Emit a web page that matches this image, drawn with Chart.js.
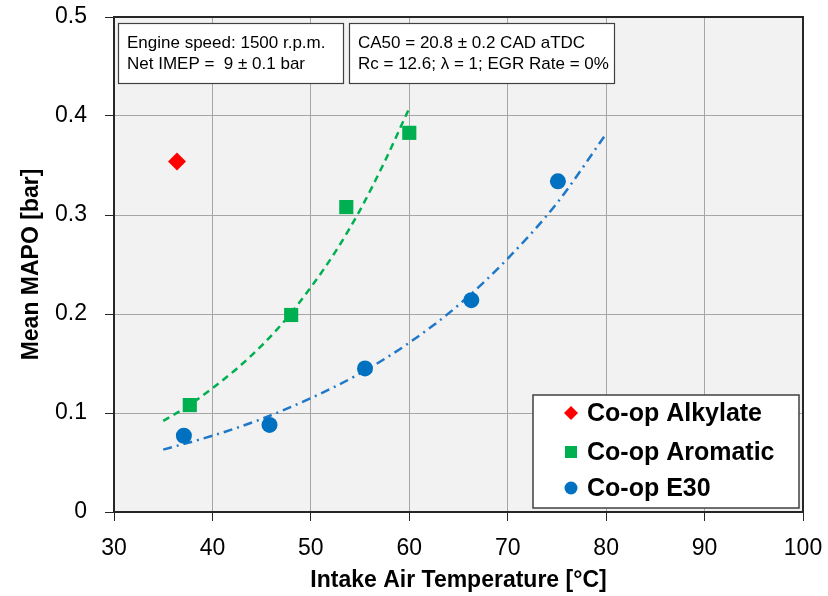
<!DOCTYPE html>
<html>
<head>
<meta charset="utf-8">
<script src="https://cdn.jsdelivr.net/npm/chart.js@4"></script>
<style>
  html, body { margin: 0; padding: 0; background: #fff; }
  #wrap { width: 828px; height: 596px; }
</style>
</head>
<body>
<div id="wrap"><canvas id="mapoChart" width="828" height="596"></canvas></div>
<script>
// measured points
const alkylateX = [36.4];
const alkylateY = [0.354];

const aromaticX = [37.7, 48.0, 53.6, 60.0];
const aromaticY = [0.108, 0.199, 0.308, 0.383];

const e30X = [37.1, 45.8, 55.5, 66.3, 75.1];
const e30Y = [0.077, 0.088, 0.145, 0.214, 0.334];

// trend lines
const aromaticFitX = [35, 37.5, 40, 42.5, 45, 47.5, 50, 52.5, 55, 57.5, 60];
const aromaticFitY = [0.092, 0.107, 0.125, 0.145, 0.168, 0.195, 0.227, 0.263, 0.305, 0.354, 0.408];

const e30FitX = [35, 40, 45, 50, 55, 60, 65, 70, 75, 80];
const e30FitY = [0.063, 0.077, 0.094, 0.115, 0.140, 0.171, 0.209, 0.256, 0.312, 0.382];

const xTicks = [30, 40, 50, 60, 70, 80, 90, 100];
const yTicks = [0, 0.1, 0.2, 0.3, 0.4, 0.5];

const noteLeft = ["Engine speed: 1500 r.p.m.", "Net IMEP =  9 \u00b1 0.1 bar"];
const noteRight = ["CA50 = 20.8 \u00b1 0.2 CAD aTDC", "Rc = 12.6; \u03bb = 1; EGR Rate = 0%"];

const RED = "#ff0000";
const GREEN = "#00b050";
const BLUE = "#0070c0";
const FONT = "'Liberation Sans', Arial, sans-serif";

const toPts = (xs, ys) => xs.map((x, i) => ({ x: x, y: ys[i] }));

const plotDecor = {
  id: "plotDecor",
  beforeDraw(chart) {
    const { ctx, chartArea: a } = chart;
    ctx.save();
    ctx.fillStyle = "#f2f2f2";
    ctx.fillRect(a.left, a.top, a.right - a.left, a.bottom - a.top);
    ctx.restore();
  },
  afterDatasetsDraw(chart) {
    const { ctx, chartArea: a } = chart;
    ctx.save();
    // frame
    ctx.strokeStyle = "#262626";
    ctx.lineWidth = 2;
    ctx.strokeRect(a.left, a.top, a.right - a.left, a.bottom - a.top);

    // notes at the top
    ctx.font = "17px " + FONT;
    ctx.textBaseline = "middle";
    ctx.textAlign = "left";
    const boxes = [
      { x: 118, w: 225, lines: noteLeft },
      { x: 349, w: 265, lines: noteRight }
    ];
    boxes.forEach(b => {
      ctx.fillStyle = "#fff";
      ctx.fillRect(b.x, 23, b.w, 60);
      ctx.strokeStyle = "#404040";
      ctx.lineWidth = 1.2;
      ctx.strokeRect(b.x + 0.5, 23.5, b.w, 60);
      ctx.fillStyle = "#000";
      ctx.fillText(b.lines[0], b.x + 9, 43);
      ctx.fillText(b.lines[1], b.x + 9, 64);
    });

    // legend
    const lx = 533, ly = 395, lw = 266, lh = 113;
    ctx.fillStyle = "#fff";
    ctx.fillRect(lx, ly, lw, lh);
    ctx.strokeStyle = "#404040";
    ctx.lineWidth = 1.5;
    ctx.strokeRect(lx, ly, lw, lh);
    const items = [
      { label: "Co-op Alkylate", color: RED, shape: "diamond", y: 413 },
      { label: "Co-op Aromatic", color: GREEN, shape: "square", y: 452 },
      { label: "Co-op E30", color: BLUE, shape: "circle", y: 488 }
    ];
    items.forEach(it => {
      const mx = 571;
      ctx.fillStyle = it.color;
      ctx.beginPath();
      if (it.shape === "diamond") {
        ctx.moveTo(mx, it.y - 7); ctx.lineTo(mx + 7, it.y);
        ctx.lineTo(mx, it.y + 7); ctx.lineTo(mx - 7, it.y);
        ctx.closePath();
      } else if (it.shape === "square") {
        ctx.rect(mx - 6, it.y - 6, 12, 12);
      } else {
        ctx.arc(mx, it.y, 6.5, 0, Math.PI * 2);
      }
      ctx.fill();
      ctx.fillStyle = "#000";
      ctx.font = "bold 25px " + FONT;
      ctx.fillText(it.label, 587, it.y + 1);
    });
    ctx.restore();
  }
};

const ctx = document.getElementById("mapoChart").getContext("2d");
const mapoChart = new Chart(ctx, {
  type: "scatter",
  data: {
    datasets: [
      {
        label: "Co-op Aromatic fit",
        type: "line",
        data: toPts(aromaticFitX, aromaticFitY),
        borderColor: GREEN,
        borderWidth: 2.5,
        borderDash: [7, 5],
        pointRadius: 0,
        cubicInterpolationMode: "monotone",
        fill: false,
        order: 5
      },
      {
        label: "Co-op E30 fit",
        type: "line",
        data: toPts(e30FitX, e30FitY),
        borderColor: "#1f78c8",
        borderWidth: 2.5,
        borderDash: [9, 5, 2, 5],
        pointRadius: 0,
        cubicInterpolationMode: "monotone",
        fill: false,
        order: 5
      },
      {
        label: "Co-op Alkylate",
        data: toPts(alkylateX, alkylateY),
        pointStyle: "rectRot",
        pointRadius: 9,
        backgroundColor: RED,
        borderColor: RED,
        borderWidth: 0,
        order: 1
      },
      {
        label: "Co-op Aromatic",
        data: toPts(aromaticX, aromaticY),
        pointStyle: "rect",
        pointRadius: 10,
        backgroundColor: GREEN,
        borderColor: GREEN,
        borderWidth: 0,
        order: 1
      },
      {
        label: "Co-op E30",
        data: toPts(e30X, e30Y),
        pointStyle: "circle",
        pointRadius: 8,
        backgroundColor: BLUE,
        borderColor: BLUE,
        borderWidth: 0,
        order: 1
      }
    ]
  },
  options: {
    responsive: false,
    animation: false,
    layout: { padding: { top: 17, right: 25, left: 0, bottom: 0 } },
    plugins: {
      legend: { display: false },
      tooltip: { enabled: false }
    },
    scales: {
      x: {
        type: "linear",
        min: xTicks[0],
        max: xTicks[xTicks.length - 1],
        afterBuildTicks: s => { s.ticks = xTicks.map(v => ({ value: v })); },
        afterFit: s => { s.height = 84; s.paddingLeft = 0; s.paddingRight = 0; },
        grid: { color: "#a6a6a6", lineWidth: 1, tickLength: 9, tickColor: "#262626" },
        border: { color: "#262626", width: 2 },
        ticks: { font: { family: FONT, size: 23 }, color: "#000", padding: 14, maxRotation: 0 },
        title: {
          display: true,
          text: "Intake Air Temperature [\u00b0C]",
          font: { family: FONT, size: 23, weight: "bold" },
          color: "#000",
          padding: { top: 2, bottom: 2 }
        }
      },
      y: {
        type: "linear",
        min: yTicks[0],
        max: yTicks[yTicks.length - 1],
        afterBuildTicks: s => { s.ticks = yTicks.map(v => ({ value: v })); },
        afterFit: s => { s.width = 114; s.paddingTop = 0; s.paddingBottom = 0; },
        grid: { color: "#a6a6a6", lineWidth: 1, tickLength: 9, tickColor: "#262626" },
        border: { color: "#262626", width: 2 },
        ticks: {
          font: { family: FONT, size: 23 },
          color: "#000",
          padding: 18,
          callback: v => (v === 0 ? "0" : v.toFixed(1))
        },
        title: {
          display: true,
          text: "Mean MAPO [bar]",
          font: { family: FONT, size: 23, weight: "bold" },
          color: "#000",
          padding: { top: 18, bottom: 0 }
        }
      }
    }
  },
  plugins: [plotDecor]
});
</script>
</body>
</html>
